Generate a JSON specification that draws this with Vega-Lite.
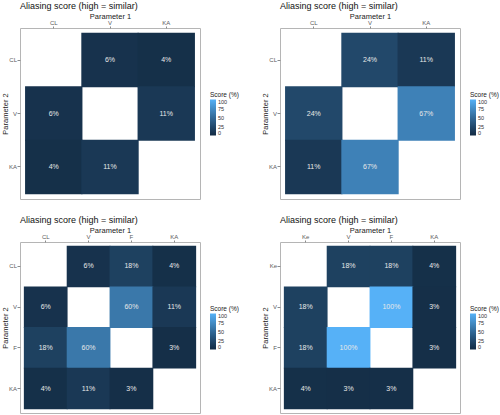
{
  "$schema": "https://vega.github.io/schema/vega-lite/v6.json",
  "padding": {"left": 1, "top": 1, "right": 0, "bottom": 0},
  "background": "white",
  "config": {
    "font": "Liberation Sans",
    "view": {"stroke": "#B5B5B5", "strokeWidth": 1},
    "axis": {"domain": false, "grid": false, "tickColor": "#8C8C8C", "labelFontSize": 6, "labelColor": "#5A5A5A", "titleFontSize": 7.5, "titleFontWeight": "normal", "titleColor": "#222222"},
    "axisX": {"tickSize": 2, "labelPadding": 0.5, "minExtent": 7.5, "maxExtent": 7.5, "titlePadding": 0.5},
    "axisY": {"tickSize": 3, "labelPadding": 0.5, "minExtent": 10, "maxExtent": 10, "titlePadding": 0.5},
    "title": {"fontSize": 9, "fontWeight": "normal", "anchor": "start", "frame": "group", "offset": 1, "color": "#111111"},
    "legend": {"titleFontSize": 6.5, "titleFontWeight": "normal", "labelFontSize": 5.5, "gradientLength": 36, "gradientThickness": 6, "titlePadding": 1, "labelOffset": 2, "titleColor": "#222222", "labelColor": "#333333"}
  },
  "datasets": {
    "p1": [
      {"p1": "V", "p2": "CL", "score": 6, "label": "6%"},
      {"p1": "KA", "p2": "CL", "score": 4, "label": "4%"},
      {"p1": "CL", "p2": "V", "score": 6, "label": "6%"},
      {"p1": "KA", "p2": "V", "score": 11, "label": "11%"},
      {"p1": "CL", "p2": "KA", "score": 4, "label": "4%"},
      {"p1": "V", "p2": "KA", "score": 11, "label": "11%"}
    ],
    "p2": [
      {"p1": "V", "p2": "CL", "score": 24, "label": "24%"},
      {"p1": "KA", "p2": "CL", "score": 11, "label": "11%"},
      {"p1": "CL", "p2": "V", "score": 24, "label": "24%"},
      {"p1": "KA", "p2": "V", "score": 67, "label": "67%"},
      {"p1": "CL", "p2": "KA", "score": 11, "label": "11%"},
      {"p1": "V", "p2": "KA", "score": 67, "label": "67%"}
    ],
    "p3": [
      {"p1": "V", "p2": "CL", "score": 6, "label": "6%"},
      {"p1": "F", "p2": "CL", "score": 18, "label": "18%"},
      {"p1": "KA", "p2": "CL", "score": 4, "label": "4%"},
      {"p1": "CL", "p2": "V", "score": 6, "label": "6%"},
      {"p1": "F", "p2": "V", "score": 60, "label": "60%"},
      {"p1": "KA", "p2": "V", "score": 11, "label": "11%"},
      {"p1": "CL", "p2": "F", "score": 18, "label": "18%"},
      {"p1": "V", "p2": "F", "score": 60, "label": "60%"},
      {"p1": "KA", "p2": "F", "score": 3, "label": "3%"},
      {"p1": "CL", "p2": "KA", "score": 4, "label": "4%"},
      {"p1": "V", "p2": "KA", "score": 11, "label": "11%"},
      {"p1": "F", "p2": "KA", "score": 3, "label": "3%"}
    ],
    "p4": [
      {"p1": "V", "p2": "Ke", "score": 18, "label": "18%"},
      {"p1": "F", "p2": "Ke", "score": 18, "label": "18%"},
      {"p1": "KA", "p2": "Ke", "score": 4, "label": "4%"},
      {"p1": "Ke", "p2": "V", "score": 18, "label": "18%"},
      {"p1": "F", "p2": "V", "score": 100, "label": "100%"},
      {"p1": "KA", "p2": "V", "score": 3, "label": "3%"},
      {"p1": "Ke", "p2": "F", "score": 18, "label": "18%"},
      {"p1": "V", "p2": "F", "score": 100, "label": "100%"},
      {"p1": "KA", "p2": "F", "score": 3, "label": "3%"},
      {"p1": "Ke", "p2": "KA", "score": 4, "label": "4%"},
      {"p1": "V", "p2": "KA", "score": 3, "label": "3%"},
      {"p1": "F", "p2": "KA", "score": 3, "label": "3%"}
    ]
  },
  "columns": 2,
  "spacing": {"row": 15, "column": 21},
  "resolve": {"scale": {"color": "independent", "x": "independent", "y": "independent"}},
  "concat": [
    {
      "width": 180, "height": 171,
      "title": "Aliasing score (high = similar)",
      "data": {"name": "p1"},
      "encoding": {
        "x": {"field": "p1", "type": "nominal", "sort": ["CL", "V", "KA"], "scale": {"paddingInner": 0, "paddingOuter": 0.1}, "axis": {"orient": "top", "title": "Parameter 1", "labelAngle": 0}},
        "y": {"field": "p2", "type": "nominal", "sort": ["CL", "V", "KA"], "scale": {"paddingInner": 0, "paddingOuter": 0.1}, "axis": {"title": "Parameter 2"}}
      },
      "layer": [
        {"mark": {"type": "rect", "width": {"band": 1.02}, "height": {"band": 1.02}}, "encoding": {
          "color": {"field": "score", "type": "quantitative", "scale": {"domain": [0, 100], "range": ["#132B43", "#56B1F7"], "interpolate": "lab"}, "legend": {"title": "Score (%)", "orient": "none", "legendX": 190, "legendY": 64, "values": [0, 25, 50, 75, 100]}}}},
        {"mark": {"type": "text", "color": "#E8E8E8", "fontSize": 7}, "encoding": {"text": {"field": "label"}}}
      ]
    },
    {
      "width": 180, "height": 171,
      "title": "Aliasing score (high = similar)",
      "data": {"name": "p2"},
      "encoding": {
        "x": {"field": "p1", "type": "nominal", "sort": ["CL", "V", "KA"], "scale": {"paddingInner": 0, "paddingOuter": 0.1}, "axis": {"orient": "top", "title": "Parameter 1", "labelAngle": 0}},
        "y": {"field": "p2", "type": "nominal", "sort": ["CL", "V", "KA"], "scale": {"paddingInner": 0, "paddingOuter": 0.1}, "axis": {"title": "Parameter 2"}}
      },
      "layer": [
        {"mark": {"type": "rect", "width": {"band": 1.02}, "height": {"band": 1.02}}, "encoding": {
          "color": {"field": "score", "type": "quantitative", "scale": {"domain": [0, 100], "range": ["#132B43", "#56B1F7"], "interpolate": "lab"}, "legend": {"title": "Score (%)", "orient": "none", "legendX": 190, "legendY": 64, "values": [0, 25, 50, 75, 100]}}}},
        {"mark": {"type": "text", "color": "#E8E8E8", "fontSize": 7}, "encoding": {"text": {"field": "label"}}}
      ]
    },
    {
      "width": 180, "height": 171,
      "title": "Aliasing score (high = similar)",
      "data": {"name": "p3"},
      "encoding": {
        "x": {"field": "p1", "type": "nominal", "sort": ["CL", "V", "F", "KA"], "scale": {"paddingInner": 0, "paddingOuter": 0.1}, "axis": {"orient": "top", "title": "Parameter 1", "labelAngle": 0}},
        "y": {"field": "p2", "type": "nominal", "sort": ["CL", "V", "F", "KA"], "scale": {"paddingInner": 0, "paddingOuter": 0.1}, "axis": {"title": "Parameter 2"}}
      },
      "layer": [
        {"mark": {"type": "rect", "width": {"band": 1.02}, "height": {"band": 1.02}}, "encoding": {
          "color": {"field": "score", "type": "quantitative", "scale": {"domain": [0, 100], "range": ["#132B43", "#56B1F7"], "interpolate": "lab"}, "legend": {"title": "Score (%)", "orient": "none", "legendX": 190, "legendY": 64, "values": [0, 25, 50, 75, 100]}}}},
        {"mark": {"type": "text", "color": "#E8E8E8", "fontSize": 7}, "encoding": {"text": {"field": "label"}}}
      ]
    },
    {
      "width": 180, "height": 171,
      "title": "Aliasing score (high = similar)",
      "data": {"name": "p4"},
      "encoding": {
        "x": {"field": "p1", "type": "nominal", "sort": ["Ke", "V", "F", "KA"], "scale": {"paddingInner": 0, "paddingOuter": 0.1}, "axis": {"orient": "top", "title": "Parameter 1", "labelAngle": 0}},
        "y": {"field": "p2", "type": "nominal", "sort": ["Ke", "V", "F", "KA"], "scale": {"paddingInner": 0, "paddingOuter": 0.1}, "axis": {"title": "Parameter 2"}}
      },
      "layer": [
        {"mark": {"type": "rect", "width": {"band": 1.02}, "height": {"band": 1.02}}, "encoding": {
          "color": {"field": "score", "type": "quantitative", "scale": {"domain": [0, 100], "range": ["#132B43", "#56B1F7"], "interpolate": "lab"}, "legend": {"title": "Score (%)", "orient": "none", "legendX": 190, "legendY": 64, "values": [0, 25, 50, 75, 100]}}}},
        {"mark": {"type": "text", "color": "#E8E8E8", "fontSize": 7}, "encoding": {"text": {"field": "label"}}}
      ]
    }
  ]
}
